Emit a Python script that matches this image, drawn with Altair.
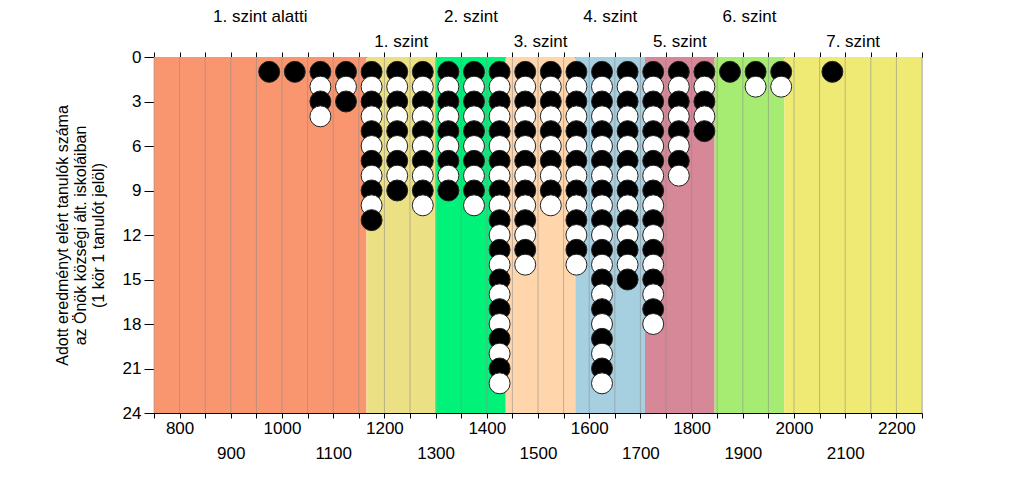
import altair as alt
import pandas as pd

# ---- data ----
bin_starts = [950, 1000, 1050, 1100, 1150, 1200, 1250, 1300, 1350, 1400, 1450,
              1500, 1550, 1600, 1650, 1700, 1750, 1800, 1850, 1900, 1950, 2050]
counts = [1, 1, 4, 3, 11, 9, 10, 9, 10, 22, 14, 10, 14, 22, 15, 18, 8, 5, 1, 2, 2, 1]
bin_width = 50

levels = ["1. szint alatti", "1. szint", "2. szint", "3. szint",
          "4. szint", "5. szint", "6. szint", "7. szint"]
level_edges = [750, 1165, 1301, 1437, 1573, 1709, 1845, 1981, 2250]
level_colors = ["#F9966F", "#ECE084", "#00F378", "#FFD6AC",
                "#A6CFE0", "#D68798", "#A6EC73", "#EEEA74"]

x_ticks = list(range(750, 2251, 50))
y_ticks = list(range(0, 25, 3))
y_title = ["Adott eredményt elért tanulók száma",
           "az Önök községi ált. iskoláiban",
           "(1 kör 1 tanulót jelöl)"]

# ---- tables ----
rows = []
for s, n in zip(bin_starts, counts):
    for k in range(1, n + 1):
        rows.append({"x": s + bin_width / 2, "k": k,
                     "fill": "black" if k % 2 == 1 else "white"})
dots = pd.DataFrame(rows)

bands = pd.DataFrame({
    "level": levels,
    "start": level_edges[:-1],
    "end": level_edges[1:],
    "idx": list(range(len(levels))),
})
bands["mid"] = (bands["start"] + bands["end"]) / 2

grid = pd.DataFrame({"g": x_ticks})

FONT = "Liberation Sans"
xscale = alt.Scale(domain=[750, 2250], nice=False, zero=False)
yscale = alt.Scale(domain=[0, 24], reverse=True, nice=False, zero=False)
yaxis = alt.Axis(values=y_ticks, title=y_title, tickSize=10, labelPadding=3,
                 labelFontSize=17, titleFontSize=16, titleLineHeight=18,
                 titleFontWeight="normal", titlePadding=16, grid=False,
                 domainColor="black", tickColor="black", labelColor="black",
                 titleColor="black", labelFont=FONT, titleFont=FONT)

band_layer = alt.Chart(bands).mark_rect().encode(
    x=alt.X("start:Q", scale=xscale, axis=None),
    x2="end:Q",
    y=alt.YDatum(0, scale=yscale, axis=yaxis),
    y2=alt.Y2Datum(24),
    color=alt.Color("level:N", scale=alt.Scale(domain=levels, range=level_colors),
                    legend=None),
)

grid_layer = alt.Chart(grid).mark_rule(color="#8a8a8a", opacity=0.55, strokeWidth=1).encode(
    x=alt.X("g:Q", scale=xscale,
            axis=alt.Axis(orient="top", values=x_ticks, labels=False, title=None,
                          tickSize=5, domainColor="black", tickColor="black",
                          grid=False)),
    y=alt.YDatum(0, scale=yscale, axis=yaxis),
    y2=alt.Y2Datum(24),
)

dot_layer = alt.Chart(dots).mark_point(
    filled=True, shape="circle", size=440, stroke="#222222", strokeWidth=1, opacity=1
).encode(
    x=alt.X("x:Q", scale=xscale,
            axis=alt.Axis(orient="bottom", values=x_ticks, title=None, tickSize=5,
                          labelExpr="datum.value % 100 == 0 ? '' + datum.value : ''",
                          labelPadding={"condition": {"test": "datum.value % 200 == 0",
                                                      "value": 2},
                                        "value": 27},
                          labelFontSize=17, labelFont=FONT, labelColor="black",
                          domainColor="black", tickColor="black", grid=False,
                          labelOverlap=False, labelFlush=False)),
    y=alt.Y("k:Q", scale=yscale, axis=yaxis),
    fill=alt.Fill("fill:N", scale=None),
    order=alt.Order("k:Q"),
)

text_top = alt.Chart(bands).transform_filter("datum.idx % 2 == 0").mark_text(
    fontSize=17, font=FONT, color="black", baseline="middle", align="center"
).encode(
    x=alt.X("mid:Q", scale=xscale, axis=None),
    y=alt.value(-40),
    text="level:N",
)
text_bot = alt.Chart(bands).transform_filter("datum.idx % 2 == 1").mark_text(
    fontSize=17, font=FONT, color="black", baseline="middle", align="center"
).encode(
    x=alt.X("mid:Q", scale=xscale, axis=None),
    y=alt.value(-15),
    text="level:N",
)

chart = alt.layer(band_layer, grid_layer, dot_layer, text_top, text_bot).resolve_axis(
    x="independent"
).properties(
    width=768, height=356,
    autosize=alt.AutoSizeParams(type="none"),
    padding={"left": 146, "top": 49, "right": 94, "bottom": 65},
    background="white",
).configure_view(stroke=None).configure(font=FONT)

chart.save("out.html", embed_options={"renderer": "svg", "actions": False})
